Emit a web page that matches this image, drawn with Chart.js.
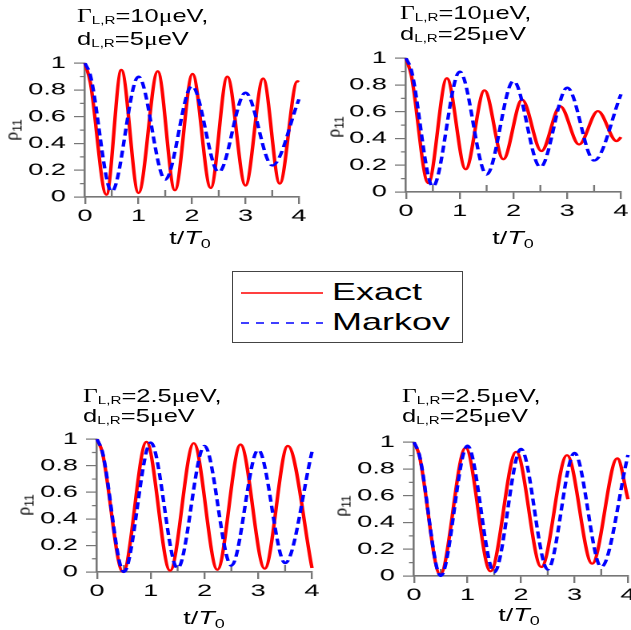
<!DOCTYPE html>
<html>
<head>
<meta charset="utf-8">
<script src="https://cdn.jsdelivr.net/npm/chart.js@4.4.1/dist/chart.umd.min.js"></script>
<style>
body{margin:0;width:631px;height:630px;overflow:hidden;background:#fff;position:relative;font-family:"Liberation Sans",Arial,sans-serif;color:#000}
.wrap{position:absolute;transform-origin:0 0}
.ttl{position:absolute;transform-origin:0 0;transform:scaleX(1.38);font-size:18.5px;white-space:nowrap}
.ttl div{height:22px;line-height:22px}
.sub{font-size:11px;position:relative;top:2px}
.gr{font-family:"Liberation Serif","Times New Roman",serif}
.xt{position:absolute;font-size:18px;white-space:nowrap;transform:translate(-50%,-50%) scaleX(1.5)}
.yt{position:absolute;font-size:18px;white-space:nowrap;transform:translate(-50%,-50%) rotate(-90deg)}
#legend{position:absolute;left:232px;top:271px;width:229px;height:70px;border:1px solid #444}
.lg{position:absolute;font-size:24px;line-height:30px;white-space:nowrap;transform-origin:0 0;transform:scaleX(1.5)}
</style>
</head>
<body>
<div id="legend"></div>
<script>
// tick values
var xTicks = [0, 1, 2, 3, 4];
var yTicks = [0, 0.2, 0.4, 0.6, 0.8, 1];
var xMinor = [0.5, 1.5, 2.5, 3.5];
var yMinor = [0.1, 0.3, 0.5, 0.7, 0.9];

// Markov curves, turning points (same for both d values)
var tMarkov = [0, 0.1, 0.5, 1, 1.5, 2, 2.5, 3, 3.5, 4];
var markovG10 = [1, 0.91, 0.04, 0.90, 0.13, 0.83, 0.185, 0.78, 0.235, 0.73];
var markovG25 = [1, 0.905, 0.0, 0.975, 0.027, 0.95, 0.048, 0.92, 0.067, 0.905];

// Exact curves, turning points
var tExactG10D5 = [0, 0.1, 0.40, 0.68, 1.00, 1.36, 1.68, 2.01, 2.35, 2.66, 3.00, 3.33, 3.64, 3.97, 4.0];
var exactG10D5 = [1, 0.856, 0.017, 0.95, 0.03, 0.94, 0.05, 0.92, 0.067, 0.90, 0.086, 0.886, 0.10, 0.865, 0.86];
var tExactG10D25 = [0, 0.1, 0.415, 0.76, 1.11, 1.46, 1.81, 2.16, 2.52, 2.87, 3.22, 3.57, 3.92, 4.0];
var exactG10D25 = [1, 0.87, 0.067, 0.85, 0.17, 0.76, 0.245, 0.69, 0.306, 0.64, 0.355, 0.605, 0.38, 0.41];
var tExactG25D5 = [0, 0.1, 0.485, 0.92, 1.36, 1.80, 2.24, 2.67, 3.12, 3.55, 4.0];
var exactG25D5 = [1, 0.90, 0.0, 0.98, 0.01, 0.97, 0.017, 0.96, 0.025, 0.95, 0.03];
var tExactG25D25 = [0, 0.1, 0.49, 0.965, 1.43, 1.91, 2.38, 2.86, 3.33, 3.80, 4.0];
var exactG25D25 = [1, 0.90, 0.012, 0.958, 0.035, 0.928, 0.067, 0.903, 0.092, 0.879, 0.574];

var S = 1.6; // the figure is stretched sideways
var AX = '#777';
var tickFont = {family: '"Liberation Sans", Arial, sans-serif', size: 17};

function pts(xs, ys) {
	return xs.map(function(x, i){ return {x: x, y: ys[i]}; });
}

var minorTicks = {
	id: 'minorTicks',
	beforeDatasetsDraw: function(chart) {
		var ctx = chart.ctx, a = chart.chartArea;
		var xs = chart.scales.x, ys = chart.scales.y;
		ctx.save();
		ctx.strokeStyle = AX;
		ctx.lineWidth = 1.2;
		ctx.beginPath();
		yMinor.forEach(function(v){
			var py = ys.getPixelForValue(v);
			ctx.moveTo(a.left - 5 / S, py);
			ctx.lineTo(a.left, py);
		});
		xMinor.forEach(function(v){
			var px = xs.getPixelForValue(v);
			ctx.moveTo(px, a.bottom);
			ctx.lineTo(px, a.bottom - 7);
		});
		ctx.stroke();
		ctx.restore();
	}
};

function addText(cls, html, x, y) {
	var d = document.createElement('div');
	d.className = cls;
	d.innerHTML = html;
	d.style.left = x + 'px';
	d.style.top = y + 'px';
	document.body.appendChild(d);
	return d;
}

function makePanel(p) {
	var yW = 75 / S, padT = 14, xH = 42;
	var plotW = (p.r - p.l) / S, plotH = p.b - p.t;
	var w = Math.ceil(yW + plotW + 14), h = padT + plotH + xH;
	var wrap = document.createElement('div');
	wrap.className = 'wrap';
	wrap.style.left = (p.l - 75) + 'px';
	wrap.style.top = (p.t - padT) + 'px';
	wrap.style.transform = 'scaleX(' + S + ')';
	var cv = document.createElement('canvas');
	cv.width = w;
	cv.height = h;
	wrap.appendChild(cv);
	document.body.appendChild(wrap);
	new Chart(cv, {
		type: 'line',
		data: {
			datasets: [
				{label: 'Markov', data: pts(tMarkov, p.markov), borderColor: '#0000ff', borderDash: [7, 4], borderWidth: 2.2, clip: 4},
				{label: 'Exact', data: pts(p.tExact, p.exact), borderColor: '#ff0000', borderWidth: 2.2, clip: 4}
			]
		},
		options: {
			responsive: false,
			animation: false,
			devicePixelRatio: 2,
			layout: {padding: {left: 0, top: padT, right: w - yW - plotW, bottom: 0}},
			plugins: {legend: {display: false}, tooltip: {enabled: false}},
			elements: {point: {radius: 0}, line: {cubicInterpolationMode: 'monotone', fill: false}},
			scales: {
				x: {
					type: 'linear', min: 0, max: 4,
					afterFit: function(s){ s.height = xH; },
					afterBuildTicks: function(s){ s.ticks = xTicks.map(function(v){ return {value: v}; }); },
					ticks: {font: tickFont, color: '#000', padding: 2, maxRotation: 0, autoSkip: false, callback: function(v){ return String(v); }},
					grid: {drawOnChartArea: false, tickLength: 7, color: AX, lineWidth: 1.2},
					border: {color: AX, width: 1.6}
				},
				y: {
					type: 'linear', min: 0, max: 1,
					afterFit: function(s){ s.width = yW; },
					afterBuildTicks: function(s){ s.ticks = yTicks.map(function(v){ return {value: v}; }); },
					ticks: {font: tickFont, color: '#000', padding: 5, autoSkip: false, callback: function(v){ return String(v); }},
					grid: {drawOnChartArea: false, tickLength: 11 / S, color: AX, lineWidth: 1.2},
					border: {color: AX, width: 1.3}
				}
			}
		},
		plugins: [minorTicks]
	});
	var tl = addText('ttl', '<div><span class="gr">&Gamma;</span><span class="sub">L,R</span>=' + p.gamma + '<span class="gr">&mu;</span>eV,</div><div>d<span class="sub">L,R</span>=' + p.d + '<span class="gr">&mu;</span>eV</div>', p.tx, p.ty);
	tl.children[0].style.height = p.lh + 'px';
	addText('xt', 't/<i>T</i><span class="sub" style="font-size:12px;top:4px">0</span>', p.xtx, p.xty);
	addText('yt', '<span class="gr">&rho;</span><span class="sub" style="font-size:12px;top:4px">11</span>', p.ytx, p.yty);
}

var panels = [
	{gamma: '10', d: '5', markov: markovG10, tExact: tExactG10D5, exact: exactG10D5,
	 l: 85, r: 299, t: 62, b: 197, tx: 77, ty: 5, lh: 23, xtx: 190, xty: 238, ytx: 12, yty: 130},
	{gamma: '10', d: '25', markov: markovG10, tExact: tExactG10D25, exact: exactG10D25,
	 l: 406, r: 621, t: 57, b: 192, tx: 400, ty: 2, lh: 21, xtx: 513, xty: 238, ytx: 334, yty: 127},
	{gamma: '2.5', d: '5', markov: markovG25, tExact: tExactG25D5, exact: exactG25D5,
	 l: 97, r: 312, t: 438, b: 572, tx: 83, ty: 385, lh: 20, xtx: 204, xty: 618, ytx: 24, yty: 505},
	{gamma: '2.5', d: '25', markov: markovG25, tExact: tExactG25D25, exact: exactG25D25,
	 l: 414, r: 628, t: 441, b: 576, tx: 402, ty: 385, lh: 20, xtx: 519, xty: 615, ytx: 341, yty: 506}
];
panels.forEach(makePanel);

// legend
var lg = document.getElementById('legend');
lg.innerHTML = '<svg width="229" height="70" style="position:absolute;left:0;top:0">' +
	'<line x1="8" y1="21" x2="90" y2="21" stroke="#ff0000" stroke-width="1.5"/>' +
	'<line x1="8" y1="51" x2="90" y2="51" stroke="#0000ff" stroke-width="1.5" stroke-dasharray="8 7"/></svg>' +
	'<div class="lg" style="left:99px;top:5px">Exact</div>' +
	'<div class="lg" style="left:99px;top:35px">Markov</div>';
</script>
</body>
</html>
